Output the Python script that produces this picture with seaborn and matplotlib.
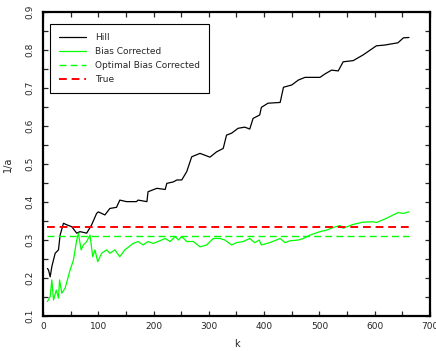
"""
Hill estimator vs bias corrected estimator of 1/a
"""

import pandas as pd
import seaborn as sns
import matplotlib.pyplot as plt
from matplotlib.ticker import MultipleLocator

# Data

hill_k = [8, 10, 13, 16, 22, 28, 31, 37, 43, 52,
          61, 67, 79, 88, 97, 100, 112, 121, 133, 139,
          151, 169, 172, 188, 190, 206, 221, 224, 236, 242,
          251, 260, 269, 284, 302, 314, 326, 332, 341, 353,
          365, 374, 380, 392, 395, 407, 429, 435, 450, 462,
          474, 501, 510, 522, 534, 543, 561, 579, 603, 618,
          642, 652, 662]
hill_val = [0.225, 0.221, 0.203, 0.23, 0.265, 0.274, 0.313, 0.344, 0.34, 0.335,
            0.318, 0.322, 0.318, 0.34, 0.37, 0.374, 0.366, 0.383, 0.386, 0.405,
            0.401, 0.401, 0.405, 0.401, 0.427, 0.436, 0.433, 0.449, 0.453, 0.458,
            0.458, 0.48, 0.519, 0.528, 0.518, 0.532, 0.541, 0.576, 0.581, 0.594,
            0.597, 0.592, 0.620, 0.629, 0.649, 0.660, 0.662, 0.702, 0.708, 0.721,
            0.728, 0.728, 0.737, 0.747, 0.745, 0.769, 0.772, 0.787, 0.811, 0.813,
            0.819, 0.832, 0.833]

bc_k = [8, 13, 16, 19, 24, 28, 30, 34, 40, 49,
        55, 61, 64, 69, 73, 79, 85, 90, 94, 99,
        106, 115, 121, 130, 139, 148, 163, 172, 181, 190,
        199, 208, 221, 230, 239, 245, 251, 260, 272, 284,
        296, 308, 320, 329, 341, 350, 362, 374, 383, 391,
        395, 410, 429, 438, 447, 462, 471, 483, 501, 513,
        525, 537, 543, 561, 579, 597, 603, 621, 642, 652,
        662]
bc_val = [0.138, 0.151, 0.195, 0.142, 0.168, 0.147, 0.195, 0.16, 0.173, 0.221,
          0.247, 0.3, 0.318, 0.274, 0.287, 0.296, 0.313, 0.256, 0.274, 0.243,
          0.265, 0.274, 0.265, 0.274, 0.256, 0.274, 0.291, 0.296, 0.287, 0.296,
          0.291, 0.296, 0.304, 0.296, 0.309, 0.3, 0.309, 0.296, 0.296, 0.282,
          0.287, 0.304, 0.304, 0.3, 0.287, 0.293, 0.296, 0.304, 0.293, 0.3,
          0.287, 0.293, 0.304, 0.293, 0.298, 0.3, 0.304, 0.313, 0.322, 0.326,
          0.333, 0.338, 0.331, 0.341, 0.347, 0.348, 0.346, 0.357, 0.372, 0.37,
          0.374]

k_range = [8, 662]
optimal_bc = 0.31
true_val = 1 / 3

# Style

sns.set_style('ticks')
plt.rcParams['font.family'] = ['DejaVu Sans']
plt.rcParams['font.size'] = 6.5

fig = plt.figure(figsize=(4.36, 3.51), dpi=100)
ax = fig.add_axes([0.0986, 0.0997, 0.8876, 0.8661])

# Plot

sns.lineplot(x=hill_k, y=hill_val, color='black', lw=0.9, sort=False,
             label='Hill', ax=ax)
sns.lineplot(x=bc_k, y=bc_val, color='#00ff00', lw=0.9, sort=False,
             label='Bias Corrected', ax=ax)
sns.lineplot(x=k_range, y=[optimal_bc, optimal_bc], color='#00ff00', lw=1.0,
             ls=(0, (5, 3)), label='Optimal Bias Corrected', ax=ax)
sns.lineplot(x=k_range, y=[true_val, true_val], color='#ff0000', lw=1.4,
             ls=(0, (4, 2.5)), label='True', ax=ax)

ax.set_xlim(0, 700)
ax.set_ylim(0.1, 0.9)
ax.xaxis.set_major_locator(MultipleLocator(100))
ax.xaxis.set_minor_locator(MultipleLocator(50))
ax.yaxis.set_major_locator(MultipleLocator(0.1))
ax.yaxis.set_minor_locator(MultipleLocator(0.05))
ax.tick_params(which='both', direction='in', top=True, right=True,
               length=3.5, width=0.9, labelsize=6.5)
ax.tick_params(axis='x', pad=4)
ax.tick_params(axis='y', pad=6)
for lab in ax.get_yticklabels():
    lab.set_rotation(90)
    lab.set_va('center')
for s in ax.spines.values():
    s.set_linewidth(1.6)
    s.set_color('black')

ax.set_xlabel('k', fontsize=7, labelpad=6)
ax.set_ylabel('1/a', fontsize=7, labelpad=9)

leg = ax.legend(loc='upper left', bbox_to_anchor=(0.018, 0.96), borderaxespad=0,
                fancybox=False, framealpha=1, edgecolor='black', fontsize=6.5,
                handlelength=3.0, labelspacing=0.55, borderpad=1.0,
                handletextpad=1.0)
leg.get_frame().set_linewidth(0.8)

plt.savefig('out.png', dpi=100)
